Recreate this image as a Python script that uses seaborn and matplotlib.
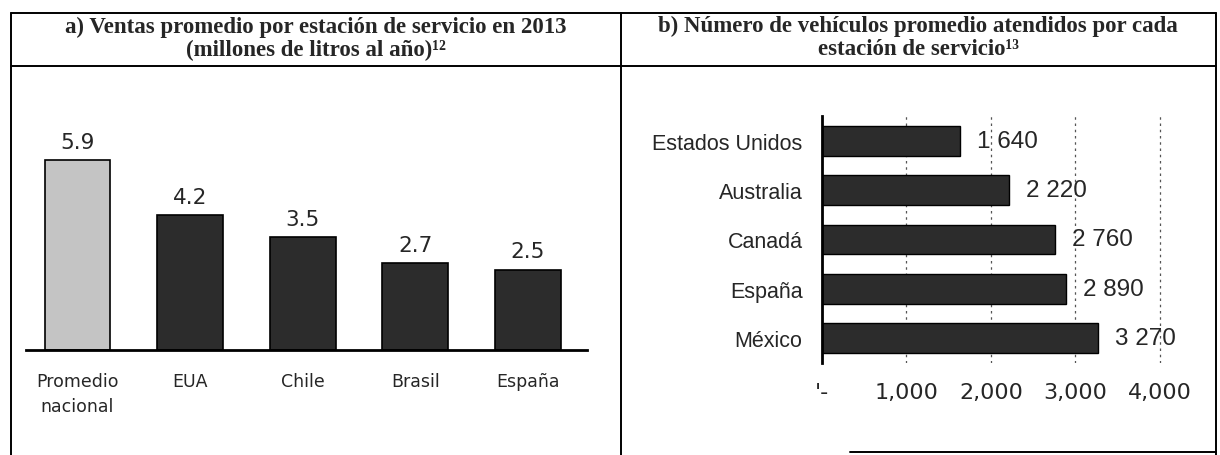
import matplotlib
matplotlib.use("Agg")
import matplotlib.pyplot as plt
from matplotlib.lines import Line2D
from matplotlib.ticker import FixedLocator
import seaborn as sns

# ---------------- data ----------------
cats_a = ["Promedio\nnacional", "EUA", "Chile", "Brasil", "España"]
vals_a = [5.9, 4.2, 3.5, 2.7, 2.5]
lbls_a = ["5.9", "4.2", "3.5", "2.7", "2.5"]

cats_b = ["Estados Unidos", "Australia", "Canadá", "España", "México"]
vals_b = [1640, 2220, 2760, 2890, 3270]
lbls_b = ["1 640", "2 220", "2 760", "2 890", "3 270"]
xticks_b = [0, 1000, 2000, 3000, 4000]
xticklabels_b = ["'-", "1,000", "2,000", "3,000", "4,000"]

title_a = "a) Ventas promedio por estación de servicio en 2013\n(millones de litros al año)¹²"
title_b = "b) Número de vehículos promedio atendidos por cada\nestación de servicio¹³"

sns.set_style("white")
plt.rcParams["font.family"] = ["DejaVu Sans"]

W, H = 1220, 456
fig = plt.figure(figsize=(W / 100, H / 100), dpi=100)


def fx(px):
    return px / W


def fy(py):
    return 1 - py / H


# ---------------- table frame ----------------
frame_kw = dict(color="black", lw=1.4, transform=fig.transFigure)
fig.add_artist(Line2D([fx(11), fx(1216)], [fy(14), fy(14)], **frame_kw))
fig.add_artist(Line2D([fx(11), fx(1216)], [fy(67), fy(67)], **frame_kw))
fig.add_artist(Line2D([fx(11), fx(11)], [fy(14), fy(456)], **frame_kw))
fig.add_artist(Line2D([fx(621), fx(621)], [fy(14), fy(456)], **frame_kw))
fig.add_artist(Line2D([fx(1216), fx(1216)], [fy(14), fy(456)], **frame_kw))
fig.add_artist(Line2D([fx(850), fx(1216)], [fy(453), fy(453)], **frame_kw))

title_kw = dict(ha="center", va="center", fontsize=16.5, fontweight="bold",
                family=["Liberation Serif", "DejaVu Serif"], linespacing=1.1)
fig.text(fx(316), fy(39), title_a, **title_kw)
fig.text(fx(918), fy(38), title_b, **title_kw)

# ---------------- panel a ----------------
x0a, x1a = 26, 587
base_a, top_a = 351, 142
axa = fig.add_axes([fx(x0a), fy(base_a), (x1a - x0a) / W, (base_a - top_a) / H])
sns.barplot(x=cats_a, y=vals_a, hue=cats_a, order=cats_a, hue_order=cats_a,
            palette=["#c4c4c4", "#2c2c2c", "#2c2c2c", "#2c2c2c", "#2c2c2c"],
            legend=False, width=0.585, edgecolor="black", linewidth=1.2,
            saturation=1, ax=axa)
axa.set_xlim(-0.4574, 4.525)
axa.set_ylim(0, 6.5)
for s in ["top", "right", "left"]:
    axa.spines[s].set_visible(False)
axa.spines["bottom"].set_linewidth(2)
axa.spines["bottom"].set_color("black")
axa.set_yticks([])
axa.set_xlabel("")
axa.set_ylabel("")
axa.tick_params(axis="x", length=0, pad=16, labelsize=12.5)
for t in axa.get_xticklabels():
    t.set_linespacing(1.45)
for i, (v, l) in enumerate(zip(vals_a, lbls_a)):
    axa.annotate(l, (i, v), xytext=(0, 6), textcoords="offset points",
                 ha="center", va="bottom", fontsize=15.5)

# ---------------- panel b ----------------
x0b, x1b = 822, 1202
topb, botb = 117, 364
axb = fig.add_axes([fx(x0b), fy(botb), (x1b - x0b) / W, (botb - topb) / H])
sns.barplot(x=vals_b, y=cats_b, hue=cats_b, order=cats_b, hue_order=cats_b,
            palette=["#2c2c2c"] * 5, legend=False, orient="h", width=0.6,
            edgecolor="black", linewidth=1.0, saturation=1, ax=axb)
axb.set_xlim(0, 4500)
axb.set_ylim(4.5, -0.5)
axb.set_axisbelow(True)
axb.set_xticks(xticks_b)
axb.set_xticklabels(xticklabels_b)
axb.xaxis.grid(True, color="#555555", lw=0.9, ls=(0, (2, 3)))
axb.yaxis.grid(False)
for s in ["top", "right", "bottom"]:
    axb.spines[s].set_visible(False)
axb.spines["left"].set_linewidth(2)
axb.spines["left"].set_color("black")
axb.yaxis.set_minor_locator(FixedLocator([-0.5, 0.5, 1.5, 2.5, 3.5, 4.5]))
axb.tick_params(axis="y", which="major", length=0, pad=14, labelsize=15.5)
axb.tick_params(axis="y", which="minor", length=6, width=1.5, direction="out",
                color="black")
axb.tick_params(axis="x", length=0, pad=14, labelsize=16)
for t in axb.get_yticklabels():
    t.set_family(["Liberation Sans", "DejaVu Sans"])
axb.set_xlabel("")
axb.set_ylabel("")
for i, (v, l) in enumerate(zip(vals_b, lbls_b)):
    axb.annotate(l, (v, i), xytext=(12, 0), textcoords="offset points",
                 ha="left", va="center", fontsize=17.5,
                 family=["Liberation Sans", "DejaVu Sans"])

fig.savefig("out.png", dpi=100, facecolor="white")
